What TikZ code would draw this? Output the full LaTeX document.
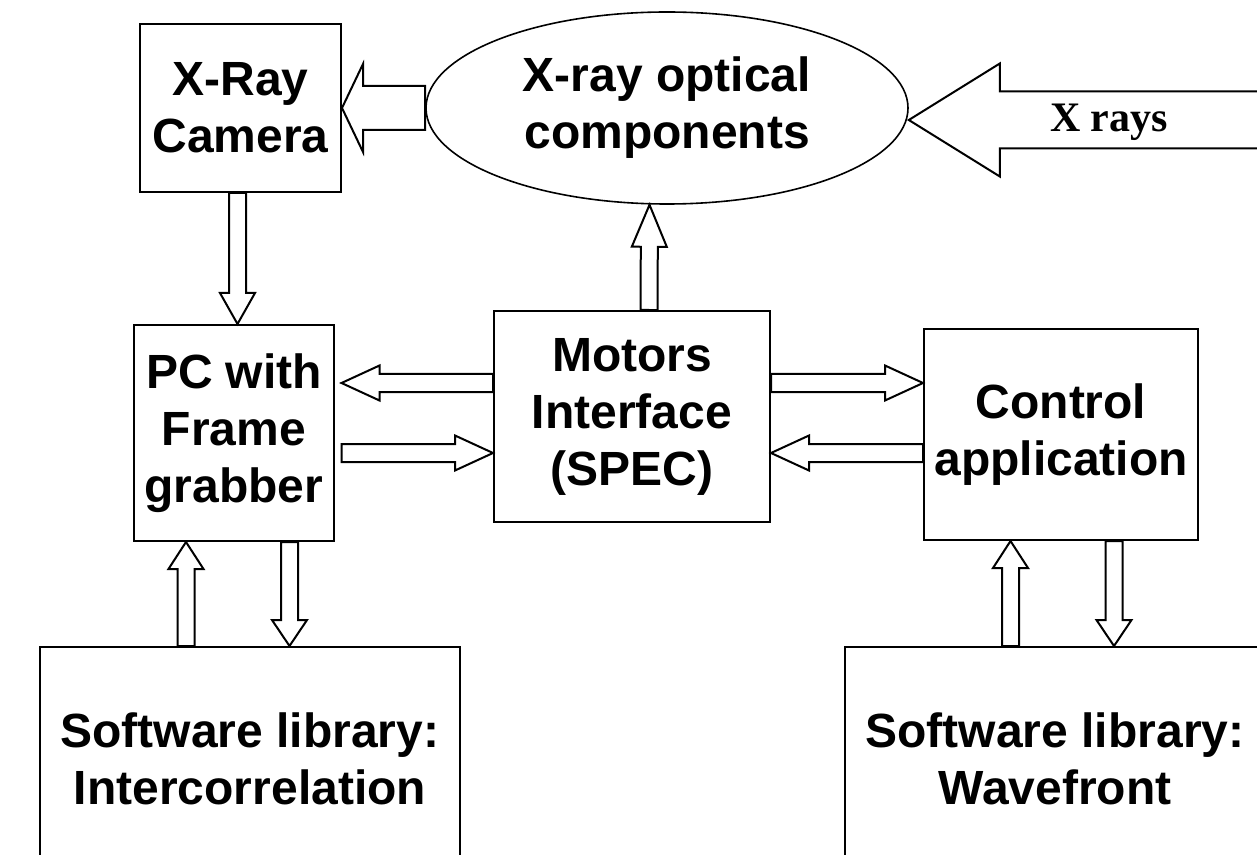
\documentclass[tikz,border=0pt]{standalone}
\usepackage{fontspec}
\setmainfont{Liberation Sans}
\newfontfamily\xrayfont{Liberation Serif}
\usetikzlibrary{shapes.geometric,calc}

\tikzset{
  block/.style={draw, line width=1pt, align=center, inner sep=0pt,
    font=\fontsize{24}{28.5}\selectfont\bfseries},
  lens/.style={block, ellipse, line width=0.8pt},
  fat/.style={draw, line width=1pt, fill=white, line join=miter},
}

% hollow arrow: from, to, shaft half width, head half width, head length
\newcommand{\fatarrow}[5]{%
  \path #1 coordinate (fa) #2 coordinate (fb);
  \path ($(fb)!#5!(fa)$) coordinate (fh);
  \draw[fat] ($(fa)!#3!90:(fb)$) -- ($(fh)!#3!90:(fb)$) -- ($(fh)!#4!90:(fb)$)
    -- (fb) -- ($(fh)!#4!-90:(fb)$) -- ($(fh)!#3!-90:(fb)$)
    -- ($(fa)!#3!-90:(fb)$) -- cycle;
}

\begin{document}
\begin{tikzpicture}[x=0.5pt, y=-0.5pt]
\useasboundingbox (0,0) rectangle (1257,855);
\clip (0,0) rectangle (1257,855);

\node[block, minimum width=100.5pt, minimum height=84pt] (camera) at (240.5,108) {X-Ray\\Camera};
\node[lens, minimum width=241pt, minimum height=96pt] (optics) at (667,108) {X-ray optical\\components};
\node[block, minimum width=100pt, minimum height=108pt] (pc) at (234,433) {PC with\\Frame\\grabber};
\node[block, minimum width=138pt, minimum height=105.5pt] (motors) at (632,416.5) {Motors\\Interface\\(SPEC)};
\node[block, minimum width=137pt, minimum height=105.5pt] (control) at (1061,434.5) {Control\\application};
\node[block, minimum width=210pt, minimum height=111.5pt] (corrlib) at (250,758.5) {Software library:\\Intercorrelation};
\node[block, minimum width=210pt, minimum height=111.5pt] (wavelib) at (1055,758.5) {Software library:\\Wavefront};

% incoming beam
\coordinate (xsrc) at (1300,120);
\fatarrow{(xsrc)}{([yshift=-6pt]optics.east)}{14.25pt}{28.25pt}{45.5pt}
\node[font=\xrayfont\bfseries\fontsize{21}{24}\selectfont] (xlabel) at (1109,122) {X rays};

\fatarrow{(optics.west)}{(camera.east)}{11pt}{22pt}{10.5pt}
\fatarrow{([xshift=-1.5pt]camera.south)}{([xshift=1.75pt]pc.north)}{4.25pt}{8.75pt}{15.5pt}
\fatarrow{([xshift=8.5pt]motors.north)}{([xshift=-8.75pt]optics.south)}{4.25pt}{8.75pt}{21pt}

\fatarrow{([yshift=16.75pt]motors.west)}{([xshift=3.25pt,yshift=25pt]pc.east)}{4.5pt}{8.75pt}{19pt}
\fatarrow{([xshift=3.25pt,yshift=-10pt]pc.east)}{([yshift=-18.25pt]motors.west)}{4.5pt}{8.75pt}{19pt}
\fatarrow{([yshift=16.75pt]motors.east)}{([yshift=25.75pt]control.west)}{4.5pt}{8.75pt}{19pt}
\fatarrow{([yshift=-9.25pt]control.west)}{([yshift=-18.25pt]motors.east)}{4.5pt}{8.75pt}{19pt}

\fatarrow{([xshift=-32pt]corrlib.north)}{([xshift=-24pt]pc.south)}{4.25pt}{8.75pt}{13.5pt}
\fatarrow{([xshift=27.75pt]pc.south)}{([xshift=19.75pt]corrlib.north)}{4.25pt}{8.75pt}{13pt}
\fatarrow{([xshift=-22.25pt]wavelib.north)}{([xshift=-25.25pt]control.south)}{4.25pt}{8.75pt}{13.5pt}
\fatarrow{([xshift=26.5pt]control.south)}{([xshift=29.5pt]wavelib.north)}{4.25pt}{8.75pt}{13pt}
\end{tikzpicture}
\end{document}
